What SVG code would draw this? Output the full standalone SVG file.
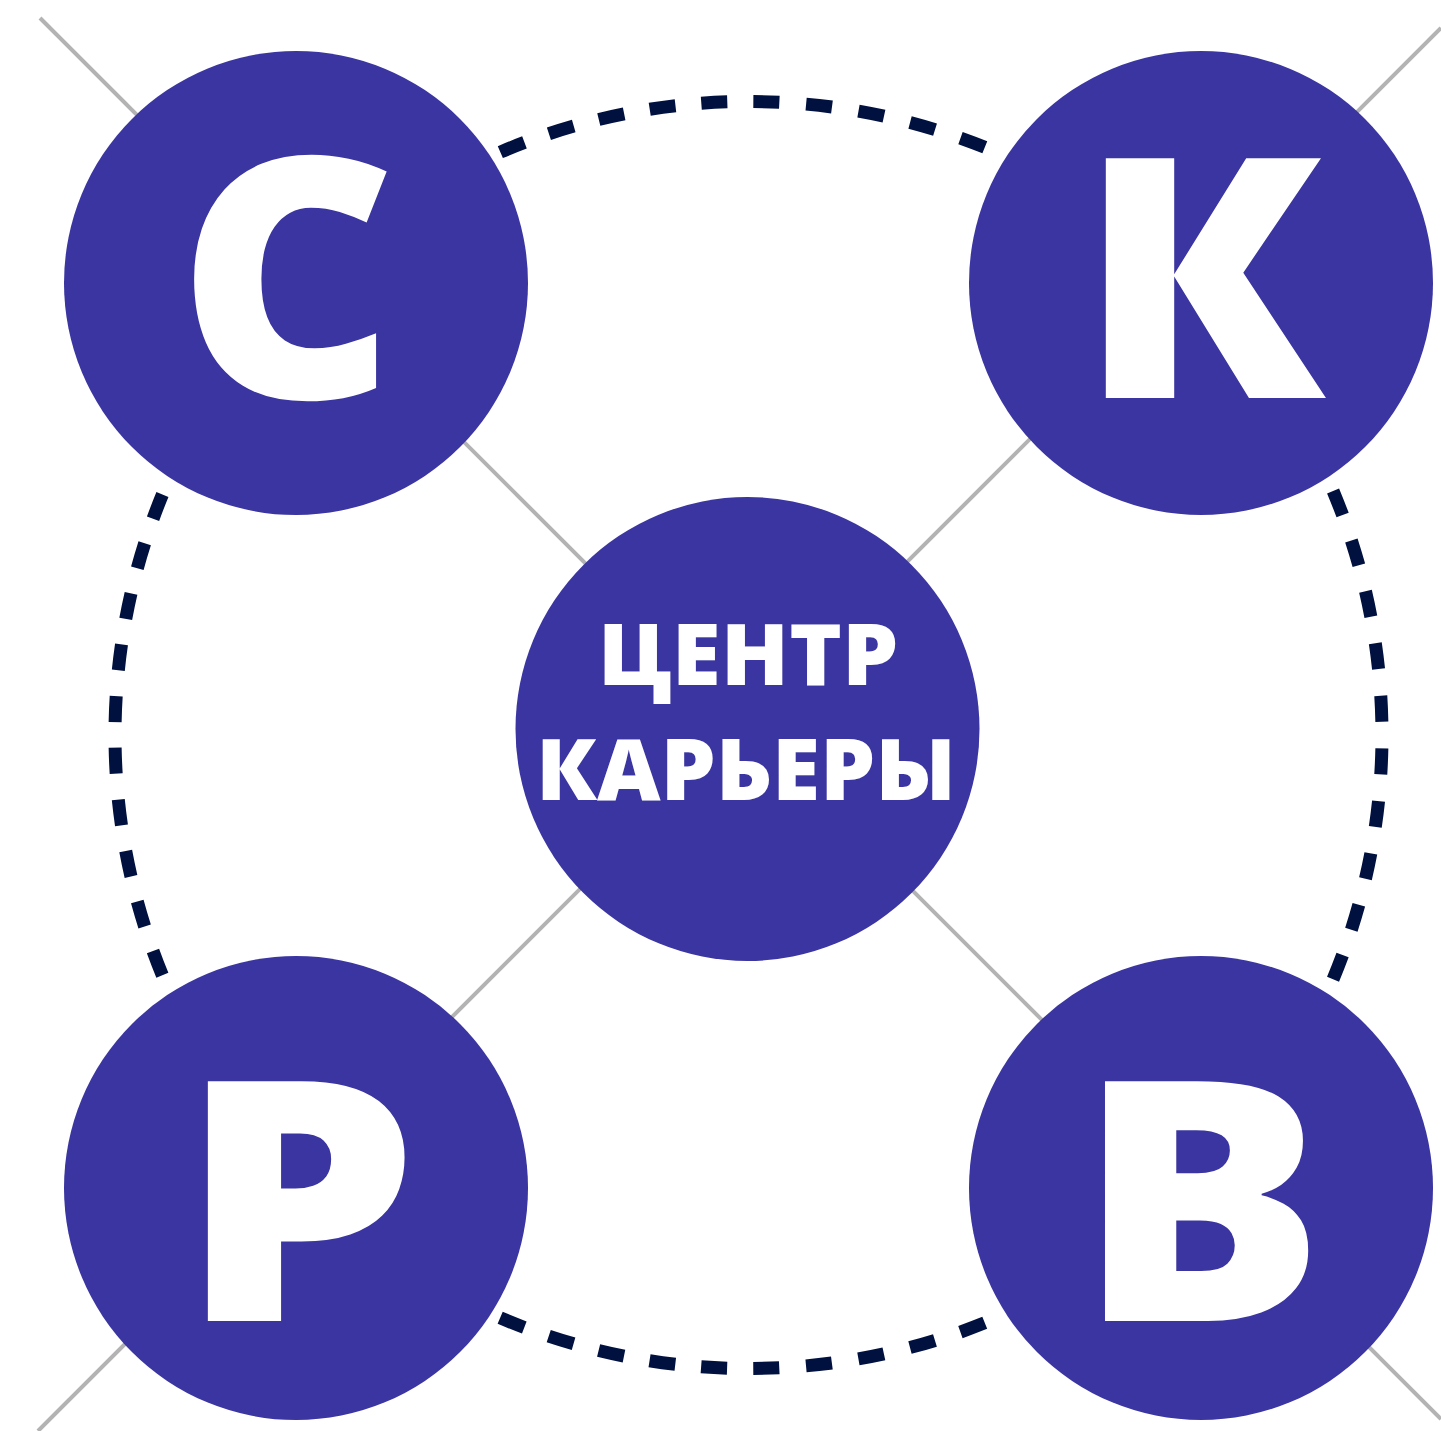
<svg xmlns="http://www.w3.org/2000/svg" width="1441" height="1431" viewBox="0 0 1441 1431">
<style>
.node{fill:#3a35a0}
.big{font-family:"Open Sans","Liberation Sans",sans-serif;font-weight:800;font-size:336px;fill:#ffffff;text-anchor:middle}
.mid{font-family:"Open Sans","Liberation Sans",sans-serif;font-weight:800;font-size:85px;fill:#ffffff;text-anchor:middle}
.gray{stroke:#b3b3b3;stroke-width:4;fill:none}
.dash{stroke:#00103f;stroke-width:13;fill:none;stroke-linecap:butt}
.d1{stroke-dasharray:26 25.93;stroke-dashoffset:38.96}
.d2{stroke-dasharray:26 26.82;stroke-dashoffset:39.41}
</style>
<rect width="1441" height="1431" fill="#ffffff"/>
<g id="connectors">
<line class="gray" x1="40" y1="18" x2="1441" y2="1419"/>
<line class="gray" x1="38" y1="1431" x2="1441" y2="28"/>
<path class="dash d1" d="M115,735 A633.5,633.5 0 0 1 740,101.56"/>
<path class="dash d2" d="M740,101.56 A633.5,633.5 0 0 1 1382,735"/>
<path class="dash d2" d="M1382,735 A633.5,633.5 0 0 1 740,1368.44"/>
<path class="dash d1" d="M740,1368.44 A633.5,633.5 0 0 1 115,735"/>
</g>
<g id="node-s">
<circle class="node" cx="296" cy="283" r="232"/>
<text class="big" transform="translate(287,398) scale(1.01,1)">С</text>
</g>
<g id="node-k">
<circle class="node" cx="1201" cy="283" r="232"/>
<text class="big" transform="translate(1201.5,398) scale(1.05,1)">К</text>
</g>
<g id="node-r">
<circle class="node" cx="296" cy="1188" r="232"/>
<text class="big" transform="translate(298.5,1321) scale(1.13,1)">Р</text>
</g>
<g id="node-v">
<circle class="node" cx="1201" cy="1188" r="232"/>
<text class="big" transform="translate(1201,1321) scale(1.1,1)">В</text>
</g>
<g id="node-center">
<circle class="node" cx="747.5" cy="729" r="232"/>
<text class="mid" transform="translate(748,685) scale(1.05,1)">ЦЕНТР</text>
<text class="mid" transform="translate(746,800) scale(1.03,1)">КАРЬЕРЫ</text>
</g>
</svg>
